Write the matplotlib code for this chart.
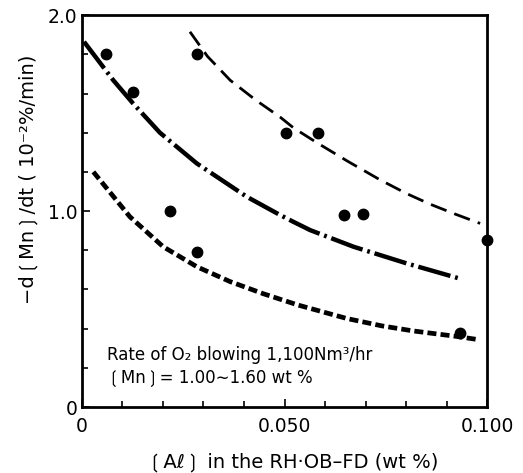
import numpy as np
import matplotlib
matplotlib.use("Agg")
import matplotlib.pyplot as plt
from matplotlib.ticker import MultipleLocator, FixedLocator

plt.rcParams['font.family'] = ['DejaVu Sans', 'Noto Sans CJK JP']
plt.rcParams['lines.scale_dashes'] = False

# measured points
al_pts = [0.0060, 0.0126, 0.0284, 0.0218, 0.0284, 0.0504, 0.0582, 0.0646, 0.0693, 0.1000, 0.0933]
rate_pts = [1.80, 1.61, 1.80, 1.00, 0.79, 1.40, 1.40, 0.98, 0.985, 0.85, 0.376]

# upper curve (long dashes)
up_x = [0.0267, 0.0310, 0.0366, 0.0430, 0.0489, 0.0522, 0.0579, 0.0655, 0.0735, 0.0800, 0.0859, 0.0920, 0.0982]
up_y = [1.915, 1.79, 1.668, 1.565, 1.480, 1.425, 1.350, 1.255, 1.160, 1.090, 1.035, 0.985, 0.937]

# middle curve (dash-dot)
mid_x = [0.0006, 0.0078, 0.0127, 0.0193, 0.0284, 0.0407, 0.0489, 0.0522, 0.0563, 0.0670, 0.0801, 0.0929]
mid_y = [1.864, 1.668, 1.549, 1.400, 1.243, 1.073, 0.980, 0.945, 0.903, 0.818, 0.733, 0.657]

# lower curve (short dashes)
low_x = [0.0029, 0.0119, 0.0201, 0.0284, 0.0366, 0.0448, 0.0534, 0.0653, 0.0740, 0.0818, 0.0925, 0.0974]
low_y = [1.200, 0.971, 0.818, 0.716, 0.640, 0.578, 0.520, 0.452, 0.414, 0.388, 0.360, 0.345]

fig = plt.figure(figsize=(5.23, 4.73), dpi=100)
ax = fig.add_axes([0.156, 0.1395, 0.776, 0.8285])

l1, = ax.plot(up_x, up_y, color='black', lw=2.0)
l1.set_dashes((12, 6))
l2, = ax.plot(mid_x, mid_y, color='black', lw=3.2)
l2.set_dashes((24, 3.5, 2, 3.5))
l3, = ax.plot(low_x, low_y, color='black', lw=3.4)
l3.set_dashes((6.5, 3))

ax.plot(al_pts, rate_pts, 'o', color='black', ms=7.5, clip_on=False, zorder=5)

ax.set_xlim(0, 0.100)
ax.set_ylim(0, 2.0)
ax.xaxis.set_major_locator(FixedLocator([0, 0.05, 0.1]))
ax.xaxis.set_minor_locator(MultipleLocator(0.01))
ax.yaxis.set_major_locator(FixedLocator([0, 1.0, 2.0]))
ax.yaxis.set_minor_locator(MultipleLocator(0.2))
ax.set_xticklabels(['0', '0.050', '0.100'])
ax.set_yticklabels(['0', '1.0', '2.0'])
ax.tick_params(which='both', direction='in', width=1.2, labelsize=13.5)
ax.tick_params(which='major', length=6)
ax.tick_params(which='minor', length=4)
ax.tick_params(axis='x', pad=7)
ax.tick_params(axis='y', pad=3)
for s in ax.spines.values():
    s.set_linewidth(2.0)

ax.set_xlabel('\u2772A\u2113\u2773 in the RH\u00b7OB\u2013FD (wt %)', fontsize=14, va='center')
ax.xaxis.set_label_coords(0.52, -0.14)
ax.set_ylabel('\u2212d\u2772Mn\u2773/dt ( 10\u207b\u00b2%/min)', fontsize=14, va='center')
ax.yaxis.set_label_coords(-0.132, 0.58)

ax.text(0.062, 0.12, 'Rate of O\u2082 blowing 1,100Nm\u00b3/hr', transform=ax.transAxes,
        fontsize=12, va='baseline')
ax.text(0.062, 0.062, '\u2772Mn\u2773= 1.00\u223c1.60 wt %', transform=ax.transAxes,
        fontsize=12, va='baseline')

fig.savefig('out.png', dpi=100)
